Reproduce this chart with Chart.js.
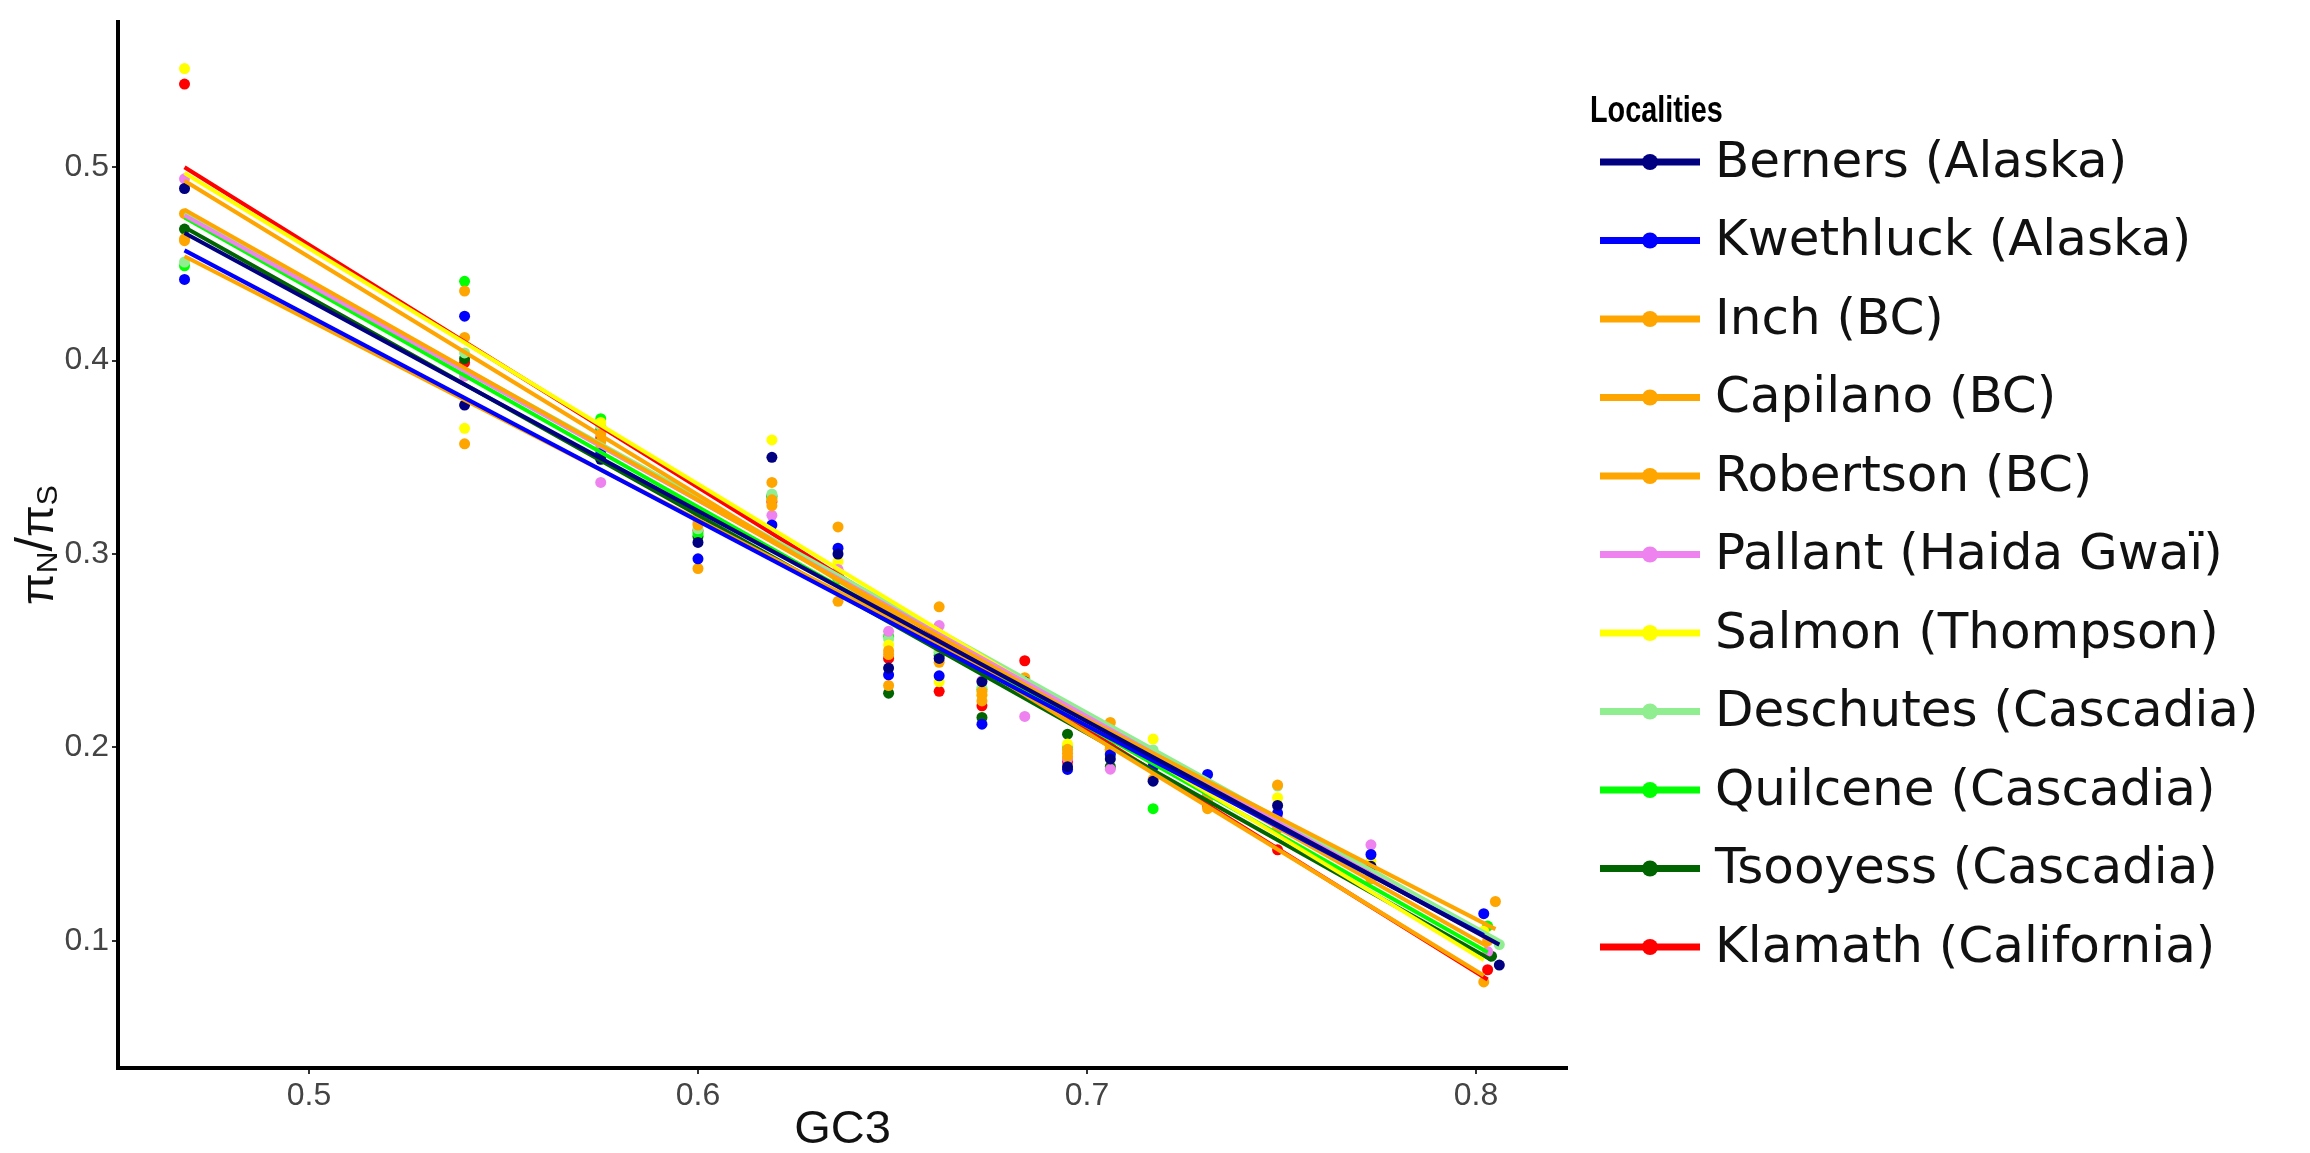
<!DOCTYPE html>
<html>
<head>
<meta charset="utf-8">
<script src="https://cdn.jsdelivr.net/npm/chart.js@4.4.1/dist/chart.umd.min.js"></script>
<style>
  html, body { margin: 0; padding: 0; background: #fff; }
  canvas { display: block; }
</style>
</head>
<body>
<canvas id="grafico" width="2310" height="1153" style="width:2310px;height:1153px"></canvas>
<script>
// GC3 of each gene class (shared by every locality, last class differs a little)
const gc3     = [0.468, 0.540, 0.575, 0.600, 0.619, 0.636, 0.649, 0.662, 0.673, 0.684, 0.695, 0.706, 0.717, 0.731, 0.749, 0.773];
const gc3Last = [0.806, 0.802, 0.805, 0.802, 0.803, 0.803, 0.802, 0.806, 0.803, 0.804, 0.803];

const localities = [
  'Berners (Alaska)', 'Kwethluck (Alaska)', 'Inch (BC)', 'Capilano (BC)', 'Robertson (BC)',
  'Pallant (Haida Gwaï)', 'Salmon (Thompson)', 'Deschutes (Cascadia)', 'Quilcene (Cascadia)',
  'Tsooyess (Cascadia)', 'Klamath (California)'
];
const colores = [
  '#000080', '#0000FF', '#FFA500', '#FFA500', '#FFA500',
  '#EE82EE', '#FFFF00', '#90EE90', '#00FF00', '#006400', '#FF0000'
];

// piN/piS per gene class
const berners   = [0.489, 0.377, 0.349, 0.306, 0.350, 0.300, 0.241, 0.246, 0.234, 0.234, 0.190, 0.194, 0.1825, 0.178, 0.170, 0.1385, 0.0874];
const kwethluck = [0.442, 0.423, 0.352, 0.2975, 0.315, 0.303, 0.2375, 0.237, 0.212, 0.233, 0.1886, 0.1962, 0.190, 0.186, 0.166, 0.1446, 0.114];
const inch      = [0.462, 0.436, 0.362, 0.2925, 0.337, 0.314, 0.250, 0.2727, 0.224, 0.232, 0.1952, 0.2129, 0.1835, 0.1683, 0.1805, 0.138, 0.1203];
const capilano  = [0.476, 0.412, 0.358, 0.318, 0.328, 0.2755, 0.232, 0.244, 0.227, 0.236, 0.197, 0.200, 0.192, 0.174, 0.160, 0.134, 0.0787];
const robertson = [0.463, 0.357, 0.355, 0.315, 0.325, 0.290, 0.248, 0.252, 0.229, 0.230, 0.199, 0.198, 0.189, 0.172, 0.158, 0.132, 0.100];
const pallant   = [0.494, 0.392, 0.337, 0.316, 0.320, 0.292, 0.260, 0.263, 0.2345, 0.216, 0.194, 0.1887, 0.195, 0.176, 0.1638, 0.1496, 0.0944];
const salmon    = [0.551, 0.365, 0.368, 0.320, 0.359, 0.296, 0.253, 0.234, 0.2272, 0.232, 0.2017, 0.201, 0.2043, 0.173, 0.174, 0.141, 0.105];
const deschutes = [0.451, 0.404, 0.366, 0.313, 0.331, 0.288, 0.256, 0.250, 0.231, 0.2357, 0.1987, 0.199, 0.1987, 0.180, 0.180, 0.137, 0.098];
const quilcene  = [0.449, 0.441, 0.370, 0.3105, 0.329, 0.287, 0.2575, 0.249, 0.230, 0.234, 0.200, 0.197, 0.1683, 0.176, 0.162, 0.135, 0.1076];
const tsooyess  = [0.468, 0.401, 0.364, 0.309, 0.330, 0.289, 0.228, 0.2475, 0.2155, 0.233, 0.2068, 0.190, 0.193, 0.175, 0.161, 0.136, 0.092];
const klamath   = [0.543, 0.399, 0.360, 0.312, 0.327, 0.291, 0.246, 0.229, 0.2215, 0.2448, 0.1927, 0.199, 0.1962, 0.170, 0.147, 0.134, 0.085];

const valores = [berners, kwethluck, inch, capilano, robertson, pallant, salmon, deschutes, quilcene, tsooyess, klamath];

// linear fit, value at first and last gene class
const ajusteInicio = [0.466, 0.457, 0.454, 0.493, 0.478, 0.475, 0.497, 0.476, 0.474, 0.469, 0.500];
const ajusteFin    = [0.098, 0.103, 0.106, 0.082, 0.097, 0.101, 0.090, 0.100, 0.094, 0.090, 0.080];

const xTicks = [0.5, 0.6, 0.7, 0.8];
const yTicks = [0.1, 0.2, 0.3, 0.4, 0.5];

function puntos(vals, ultimoX) {
  return vals.map((y, k) => ({ x: k < gc3.length ? gc3[k] : ultimoX, y }));
}

const datasets = [];
localities.forEach((nombre, i) => {
  datasets.push({
    label: nombre,
    data: puntos(valores[i], gc3Last[i]),
    backgroundColor: colores[i],
    borderWidth: 0,
    pointRadius: 5.5,
    showLine: false,
    order: 2
  });
});
localities.forEach((nombre, i) => {
  datasets.push({
    label: nombre + ' fit',
    data: [{ x: gc3[0], y: ajusteInicio[i] }, { x: gc3Last[i], y: ajusteFin[i] }],
    borderColor: colores[i],
    borderWidth: 4,
    pointRadius: 0,
    showLine: true,
    fill: false,
    order: 1
  });
});

// axis titles and the "Localities" key
const extras = {
  id: 'extras',
  afterDraw(chart) {
    const ctx  = chart.ctx;
    const area = chart.chartArea;

    ctx.save();
    ctx.fillStyle = '#111';
    ctx.textAlign = 'center';
    ctx.textBaseline = 'middle';
    ctx.font = '47px "Liberation Sans", Arial, sans-serif';
    ctx.fillText('GC3', (area.left + area.right) / 2, 1130);
    ctx.restore();

    // piN / piS, rotated
    const partes = [
      { t: 'π', f: '46px "Liberation Sans"', dy: 0 },
      { t: 'N', f: '30px "Liberation Sans"', dy: 9 },
      { t: '/', f: '52px "Liberation Sans"', dy: -2 },
      { t: 'π', f: '46px "Liberation Sans"', dy: 0 },
      { t: 'S', f: '30px "Liberation Sans"', dy: 9 }
    ];
    ctx.save();
    ctx.translate(40, (area.top + area.bottom) / 2);
    ctx.rotate(-Math.PI / 2);
    ctx.fillStyle = '#111';
    ctx.textBaseline = 'middle';
    ctx.textAlign = 'left';
    let total = 0;
    partes.forEach(p => { ctx.font = p.f; p.w = ctx.measureText(p.t).width; total += p.w; });
    let x = -total / 2;
    partes.forEach(p => { ctx.font = p.f; ctx.fillText(p.t, x, p.dy); x += p.w; });
    ctx.restore();

    // key title, narrow bold
    ctx.save();
    ctx.fillStyle = '#000';
    ctx.textAlign = 'left';
    ctx.textBaseline = 'middle';
    ctx.translate(1590, 112);
    ctx.scale(0.8, 1);
    ctx.font = 'bold 36px "Liberation Sans", Arial, sans-serif';
    ctx.fillText('Localities', 0, 0);
    ctx.restore();

    // key rows
    ctx.save();
    ctx.textAlign = 'left';
    ctx.textBaseline = 'middle';
    ctx.font = '50px "DejaVu Sans", sans-serif';
    localities.forEach((nombre, i) => {
      const y = 162 + i * 78.5;
      ctx.strokeStyle = colores[i];
      ctx.lineWidth = 7;
      ctx.beginPath();
      ctx.moveTo(1600, y);
      ctx.lineTo(1700, y);
      ctx.stroke();
      ctx.fillStyle = colores[i];
      ctx.beginPath();
      ctx.arc(1650, y, 8, 0, Math.PI * 2);
      ctx.fill();
      ctx.fillStyle = '#111';
      ctx.fillText(nombre, 1715, y + 2);
    });
    ctx.restore();
  }
};

const ejeComun = {
  border: { display: true, color: '#000', width: 4 },
  grid: { display: true, drawOnChartArea: false, drawTicks: true, tickLength: 6, tickColor: '#333', lineWidth: 2 },
  ticks: { color: '#444', font: { family: '"Liberation Sans", Arial, sans-serif', size: 32 }, padding: 3 }
};

new Chart(document.getElementById('grafico'), {
  type: 'scatter',
  data: { datasets },
  plugins: [extras],
  options: {
    responsive: false,
    animation: false,
    events: [],
    layout: { padding: { left: 0, top: 0, right: 743, bottom: 0 } },
    plugins: { legend: { display: false }, tooltip: { enabled: false } },
    scales: {
      x: {
        ...ejeComun,
        type: 'linear',
        min: 0.4509,
        max: 0.8234,
        afterBuildTicks: s => { s.ticks = xTicks.map(v => ({ value: v })); },
        afterFit: s => { s.height = 85; },
        ticks: { ...ejeComun.ticks, callback: v => v.toFixed(1) }
      },
      y: {
        ...ejeComun,
        type: 'linear',
        min: 0.0342,
        max: 0.575,
        afterBuildTicks: s => { s.ticks = yTicks.map(v => ({ value: v })); },
        afterFit: s => { s.width = 118; },
        ticks: { ...ejeComun.ticks, callback: v => v.toFixed(1) }
      }
    }
  }
});
</script>
</body>
</html>
